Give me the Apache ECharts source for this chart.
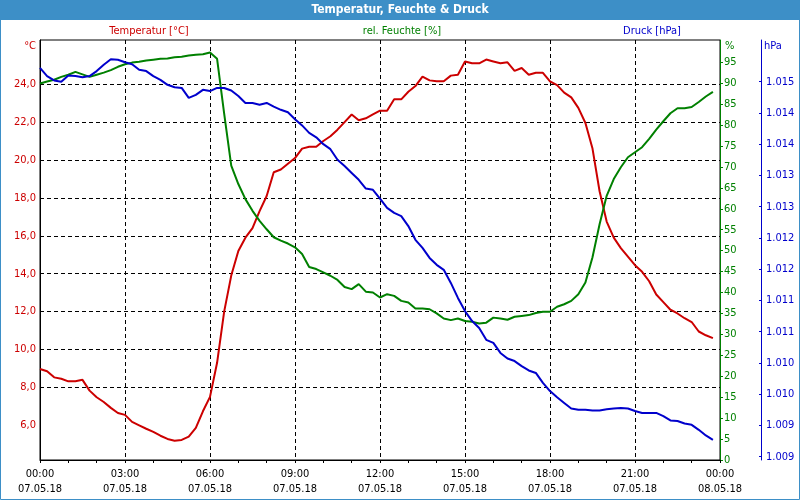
<!DOCTYPE html>
<html>
<head>
<meta charset="utf-8">
<script src="https://cdn.jsdelivr.net/npm/echarts@6/dist/echarts.min.js"></script>
<style>
html,body{margin:0;padding:0;background:#fff;}
#chart{width:800px;height:500px;}
</style>
</head>
<body>
<div id="chart"></div>
<script>
// Values every 15 minutes starting 07.05.18 00:00
const temperature = [
  8.97, 8.85, 8.53, 8.46, 8.32, 8.32, 8.40, 7.83, 7.48, 7.23, 6.92, 6.65, 6.55, 6.18, 6.00, 5.82, 5.65, 5.45, 5.28, 5.19, 5.23, 5.40, 5.86, 6.74,
  7.50, 9.30, 12.0, 13.9, 15.2, 15.9, 16.4, 17.3, 18.1, 19.35, 19.5, 19.8, 20.1, 20.6, 20.7, 20.7, 21.0, 21.25, 21.6, 22.0, 22.4, 22.1, 22.2, 22.4,
  22.6, 22.6, 23.2, 23.2, 23.6, 23.9, 24.4, 24.2, 24.15, 24.15, 24.45, 24.5, 25.2, 25.1, 25.1, 25.3, 25.2, 25.1, 25.15, 24.7, 24.85, 24.5, 24.6, 24.6,
  24.15, 23.95, 23.55, 23.3, 22.75, 21.95, 20.6, 18.35, 16.75, 15.9, 15.35, 14.9, 14.45, 14.1, 13.6, 12.9, 12.5, 12.1, 11.9, 11.65, 11.45, 10.95, 10.75, 10.6
];
const humidity = [
  89.9, 90.4, 90.8, 91.5, 92.0, 92.7, 92.1, 91.5, 92.0, 92.5, 93.1, 93.9, 94.5, 94.9, 95.1, 95.4, 95.6, 95.8, 95.9, 96.2, 96.3, 96.6, 96.8, 96.9,
  97.3, 95.8, 82.7, 70.3, 65.9, 62.3, 59.5, 57.1, 55.1, 53.2, 52.4, 51.7, 50.8, 49.2, 46.1, 45.6, 44.8, 44.0, 43.0, 41.3, 40.8, 42.0, 40.2, 40.0,
  38.8, 39.6, 39.2, 38.0, 37.6, 36.2, 36.2, 36.0, 35.0, 33.8, 33.4, 33.8, 33.2, 33.0, 32.6, 32.8, 34.0, 33.8, 33.5, 34.2, 34.4, 34.6, 35.1, 35.4,
  35.4, 36.6, 37.2, 38.0, 39.6, 42.4, 48.4, 56.3, 63.1, 67.1, 69.9, 72.3, 73.5, 74.7, 76.7, 78.9, 80.9, 82.8, 84.0, 84.0, 84.3, 85.5, 86.8, 87.9
];
const pressure = [
  1015.22, 1015.09, 1015.02, 1015.00, 1015.10, 1015.09, 1015.07, 1015.09, 1015.17, 1015.27, 1015.36, 1015.35, 1015.31, 1015.28, 1015.19, 1015.17, 1015.09, 1015.03, 1014.95, 1014.91, 1014.90, 1014.74, 1014.79, 1014.87,
  1014.85, 1014.90, 1014.90, 1014.86, 1014.77, 1014.66, 1014.66, 1014.63, 1014.66, 1014.60, 1014.55, 1014.51, 1014.40, 1014.30, 1014.18, 1014.11, 1014.00, 1013.92, 1013.75, 1013.65, 1013.54, 1013.43, 1013.29, 1013.27,
  1013.13, 1012.98, 1012.90, 1012.85, 1012.69, 1012.47, 1012.34, 1012.18, 1012.07, 1011.99, 1011.78, 1011.54, 1011.33, 1011.17, 1011.06, 1010.87, 1010.82, 1010.66, 1010.57, 1010.53, 1010.45, 1010.38, 1010.34, 1010.18,
  1010.05, 1009.95, 1009.86, 1009.77, 1009.75, 1009.75, 1009.74, 1009.74, 1009.76, 1009.77, 1009.78, 1009.77, 1009.73, 1009.70, 1009.70, 1009.70, 1009.65, 1009.58, 1009.57, 1009.53, 1009.51, 1009.43, 1009.34, 1009.27
];
const timeLabels = ['00:00', '03:00', '06:00', '09:00', '12:00', '15:00', '18:00', '21:00', '00:00'];
const dateLabels = ['07.05.18', '07.05.18', '07.05.18', '07.05.18', '07.05.18', '07.05.18', '07.05.18', '07.05.18', '08.05.18'];
const tempTicks = [6, 8, 10, 12, 14, 16, 18, 20, 22, 24, 26];
const humTicks = [0, 5, 10, 15, 20, 25, 30, 35, 40, 45, 50, 55, 60, 65, 70, 75, 80, 85, 90, 95];
const pressTicks = [1009, 1009.5, 1010, 1010.5, 1011, 1011.5, 1012, 1012.5, 1013, 1013.5, 1014, 1014.5, 1015];
const seriesNames = ['Temperatur [°C]', 'rel. Feuchte [%]', 'Druck [hPa]'];
const chartTitle = 'Temperatur, Feuchte & Druck';

const FONT = "'DejaVu Sans Condensed', 'DejaVu Sans', sans-serif";
const RED = '#cc0000', GREEN = '#008000', BLUE = '#0000cc', BAR = '#3d8fc7';

function pairs(arr) { return arr.map((v, i) => [i * 0.25, v]); }

const chart = echarts.init(document.getElementById('chart'), null, {renderer: 'canvas'});
chart.setOption({
  animation: false,
  backgroundColor: '#fff',
  textStyle: {fontFamily: FONT},
  grid: {left: 40, right: 80, top: 40, bottom: 40, show: true, borderColor: '#000', borderWidth: 1, backgroundColor: '#fff'},
  graphic: [
    {type: 'rect', shape: {x: 0, y: 0, width: 800, height: 20}, style: {fill: BAR}, z: 0},
    {type: 'rect', shape: {x: 0.5, y: 0.5, width: 799, height: 499}, style: {fill: 'none', stroke: BAR, lineWidth: 1}, z: 0},
    {type: 'text', x: 400, y: 10, style: {text: chartTitle, fill: '#fff', font: 'bold 12px ' + FONT, align: 'center', verticalAlign: 'middle'}, z: 10},
    {type: 'text', x: 149, y: 31, style: {text: seriesNames[0], fill: RED, font: '11px ' + FONT, align: 'center', verticalAlign: 'middle'}, z: 10},
    {type: 'text', x: 402, y: 31, style: {text: seriesNames[1], fill: GREEN, font: '11px ' + FONT, align: 'center', verticalAlign: 'middle'}, z: 10},
    {type: 'text', x: 652, y: 31, style: {text: seriesNames[2], fill: BLUE, font: '11px ' + FONT, align: 'center', verticalAlign: 'middle'}, z: 10},
    {type: 'text', x: 725, y: 46, style: {text: '%', fill: GREEN, font: '11px ' + FONT, align: 'left', verticalAlign: 'middle'}, z: 10},
    {type: 'text', x: 764, y: 46, style: {text: 'hPa', fill: BLUE, font: '11px ' + FONT, align: 'left', verticalAlign: 'middle'}, z: 10}
  ],
  xAxis: {
    type: 'value', min: 0, max: 24, interval: 3,
    axisLine: {show: true, onZero: false, lineStyle: {color: '#000', width: 1}},
    axisTick: {show: true, length: 3, lineStyle: {color: '#000'}},
    minorTick: {show: true, splitNumber: 3, length: 3, lineStyle: {color: '#000'}},
    axisLabel: {
      color: '#000', fontSize: 11, fontFamily: FONT, margin: 7, lineHeight: 15,
      formatter: v => { const i = Math.round(v / 3); return timeLabels[i] + '\n' + dateLabels[i]; }
    },
    splitLine: {show: true, showMinLine: false, showMaxLine: false, lineStyle: {color: '#000', type: [4, 3], width: 1}}
  },
  yAxis: [
    {
      type: 'value', position: 'left', min: 4.17, max: 26.33,
      axisLine: {show: true, lineStyle: {color: '#000', width: 1}},
      axisTick: {show: false, customValues: tempTicks},
      axisLabel: {
        customValues: tempTicks, color: RED, fontSize: 11, fontFamily: FONT, margin: 4,
        formatter: v => Math.abs(v - 26) < 1e-6 ? '°C' : v.toFixed(1).replace('.', ',')
      },
      splitLine: {show: true, showMinLine: false, showMaxLine: false, lineStyle: {color: '#000', type: [4, 3], width: 1}}
    },
    {
      type: 'value', position: 'right', min: 0, max: 100.3,
      axisLine: {show: true, lineStyle: {color: GREEN, width: 1}},
      axisTick: {show: true, length: 3, customValues: humTicks, lineStyle: {color: GREEN}},
      axisLabel: {customValues: humTicks, color: GREEN, fontSize: 11, fontFamily: FONT, margin: 4},
      splitLine: {show: false}
    },
    {
      type: 'value', position: 'right', offset: 41, min: 1008.947, max: 1015.667,
      axisLine: {show: true, lineStyle: {color: BLUE, width: 1}},
      axisTick: {show: true, inside: true, length: 2, customValues: pressTicks, lineStyle: {color: BLUE}},
      axisLabel: {
        customValues: pressTicks, color: BLUE, fontSize: 11, fontFamily: FONT, margin: 5,
        formatter: v => (Math.floor(v + 1e-9) / 1000).toFixed(3)
      },
      splitLine: {show: false}
    }
  ],
  series: [
    {name: seriesNames[0], type: 'line', yAxisIndex: 0, data: pairs(temperature), showSymbol: false, lineStyle: {color: RED, width: 2}, itemStyle: {color: RED}},
    {name: seriesNames[1], type: 'line', yAxisIndex: 1, data: pairs(humidity), showSymbol: false, lineStyle: {color: GREEN, width: 2}, itemStyle: {color: GREEN}},
    {name: seriesNames[2], type: 'line', yAxisIndex: 2, data: pairs(pressure), showSymbol: false, lineStyle: {color: BLUE, width: 2}, itemStyle: {color: BLUE}}
  ]
});
</script>
</body>
</html>
